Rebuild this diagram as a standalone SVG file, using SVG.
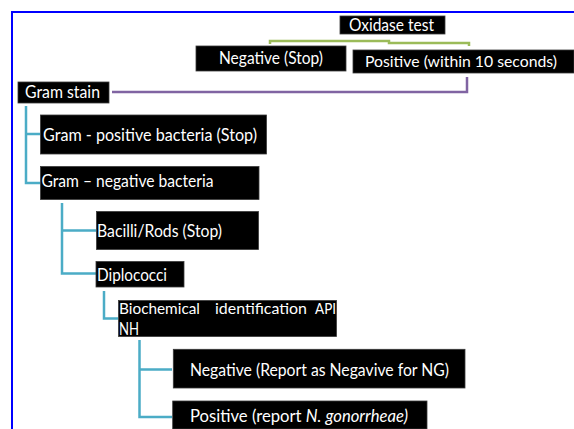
<svg xmlns="http://www.w3.org/2000/svg" width="574" height="429" viewBox="0 0 574 429">
<style>
.box{fill:#000;stroke:#3a3a3a;stroke-width:0.8}
.t{font-family:Lato,"Liberation Sans",sans-serif;font-size:18px;fill:#fff}
.s{font-size:16px}
.c{fill:none;stroke-width:2.5;stroke-linejoin:miter}
.g{stroke:#9bbb59}
.p{stroke:#8064a2}
.b{stroke:#4bacc6}
</style>
<rect x="0" y="0" width="574" height="429" fill="#fff"/>
<rect x="12" y="12" width="620" height="480" fill="none" stroke="#0000ff" stroke-width="2"/>
<g id="connectors">
<path class="c g" d="M270,44 V41 H389 V43 H469 V46"/>
<path class="c p" d="M112,92 H467 V77"/>
<path class="c b" d="M26,106 V183 H40 M26,134 H40"/>
<path class="c b" d="M62,203 V273.5 H96 M62,230.5 H96"/>
<path class="c b" d="M104,291 V318.5 H118"/>
<path class="c b" d="M139.5,340 V417 H172 M139.5,369.5 H172"/>
</g>
<g id="oxidase">
<rect class="box" x="340" y="16" width="105" height="18"/>
<text class="t" x="349" y="30.5" textLength="85" lengthAdjust="spacingAndGlyphs">Oxidase test</text>
</g>
<g id="neg-stop">
<rect class="box" x="196" y="46" width="150" height="25"/>
<text class="t" x="219" y="64" textLength="104" lengthAdjust="spacingAndGlyphs">Negative (Stop)</text>
</g>
<g id="pos-10s">
<rect class="box" x="353" y="50" width="221" height="23"/>
<text class="t s" x="365" y="67" textLength="192" lengthAdjust="spacingAndGlyphs">Positive (within 10 seconds)</text>
</g>
<g id="gram-stain">
<rect class="box" x="18" y="82" width="91" height="21"/>
<text class="t" x="25" y="98" textLength="75" lengthAdjust="spacingAndGlyphs">Gram stain</text>
</g>
<g id="gram-pos">
<rect class="box" x="40.5" y="115" width="226" height="39"/>
<text class="t" x="43" y="140.5" textLength="214" lengthAdjust="spacingAndGlyphs">Gram - positive bacteria (Stop)</text>
</g>
<g id="gram-neg">
<rect class="box" x="40.5" y="166.5" width="218.5" height="33"/>
<text class="t" x="41.5" y="187" textLength="172" lengthAdjust="spacingAndGlyphs">Gram – negative bacteria</text>
</g>
<g id="bacilli">
<rect class="box" x="96.5" y="211.5" width="162" height="38"/>
<text class="t" x="97" y="236.5" textLength="125" lengthAdjust="spacingAndGlyphs">Bacilli/Rods (Stop)</text>
</g>
<g id="diplococci">
<rect class="box" x="96" y="261.5" width="88" height="25.5"/>
<text class="t" x="97" y="280.5" textLength="70" lengthAdjust="spacingAndGlyphs">Diplococci</text>
</g>
<g id="biochemical">
<rect class="box" x="118.5" y="300.5" width="218" height="36"/>
<text class="t s" x="119" y="314" textLength="81" lengthAdjust="spacingAndGlyphs">Biochemical</text>
<text class="t s" x="215" y="314" textLength="92" lengthAdjust="spacingAndGlyphs">identification</text>
<text class="t s" x="315" y="314" textLength="21" lengthAdjust="spacingAndGlyphs">API</text>
<text class="t" x="119" y="335" textLength="20" lengthAdjust="spacingAndGlyphs">NH</text>
</g>
<g id="neg-report">
<rect class="box" x="173.3" y="349.3" width="291.7" height="38.7"/>
<text class="t" x="190" y="376.3" textLength="259" lengthAdjust="spacingAndGlyphs">Negative (Report as Negavive for NG)</text>
</g>
<g id="pos-report">
<rect class="box" x="172.7" y="401" width="254.3" height="28"/>
<text class="t" x="190" y="422" textLength="218" lengthAdjust="spacingAndGlyphs">Positive (report <tspan font-style="italic">N. gonorrheae)</tspan></text>
</g>
</svg>
